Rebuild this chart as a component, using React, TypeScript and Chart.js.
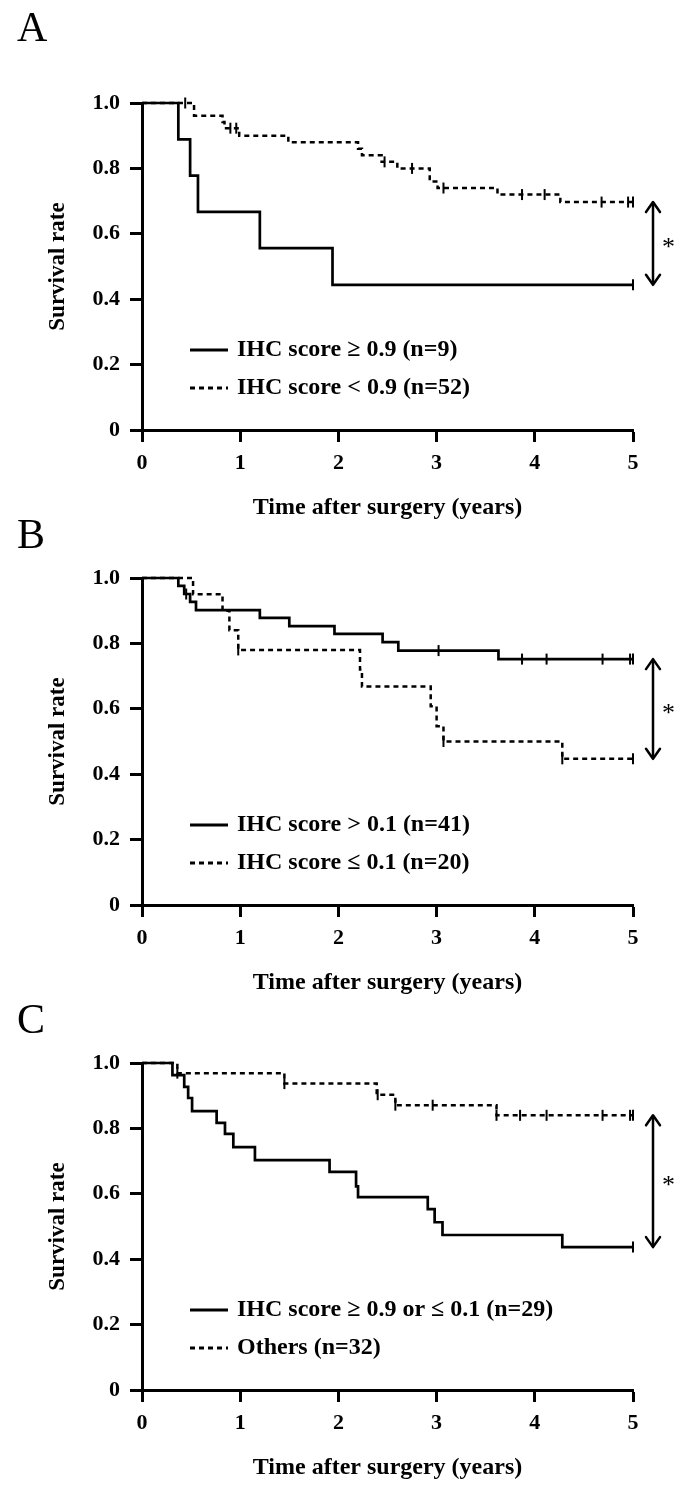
import React, { useEffect, useRef } from 'react';
import { Chart, registerables } from 'chart.js';
Chart.register(...registerables);

const FONT = '"Liberation Serif", "Times New Roman", serif';

const yTickLabels = ['0', '0.2', '0.4', '0.6', '0.8', '1.0'];
const xTickLabels = ['0', '1', '2', '3', '4', '5'];
const xAxisTitle = 'Time after surgery (years)';
const yAxisTitle = 'Survival rate';
const panelLetters = ['A', 'B', 'C'];

// Panel A
const aSolidLabel = 'IHC score \u2265 0.9 (n=9)';
const aSolidTimes = [0, 0.37, 0.49, 0.57, 1.2, 1.94, 5];
const aSolidSurv = [1, 0.889, 0.778, 0.667, 0.556, 0.444, 0.444];
const aSolidCensor = [5];
const aDashLabel = 'IHC score < 0.9 (n=52)';
const aDashTimes = [0, 0.53, 0.82, 0.84, 0.99, 1.49, 2.2, 2.24, 2.44, 2.6, 2.93, 3.01, 3.62, 4.26, 5];
const aDashSurv = [1, 0.961, 0.942, 0.923, 0.9, 0.88, 0.86, 0.84, 0.82, 0.8, 0.76, 0.74, 0.72, 0.697, 0.697];
const aDashCensor = [0.44, 0.9, 0.96, 2.47, 2.75, 3.07, 3.87, 4.1, 4.68, 4.95, 5];

// Panel B
const bSolidLabel = 'IHC score > 0.1 (n=41)';
const bSolidTimes = [0, 0.37, 0.43, 0.49, 0.55, 1.2, 1.5, 1.96, 2.45, 2.61, 3.63, 5];
const bSolidSurv = [1, 0.976, 0.951, 0.927, 0.902, 0.878, 0.853, 0.829, 0.804, 0.778, 0.752, 0.752];
const bSolidCensor = [0.45, 3.02, 3.87, 4.12, 4.69, 4.97, 5];
const bDashLabel = 'IHC score \u2264 0.1 (n=20)';
const bDashTimes = [0, 0.52, 0.82, 0.89, 0.98, 2.22, 2.24, 2.94, 3.0, 3.07, 4.28, 5];
const bDashSurv = [1, 0.95, 0.9, 0.84, 0.78, 0.72, 0.668, 0.608, 0.547, 0.5, 0.447, 0.447];
const bDashCensor = [0.98, 3.07, 4.28, 5];

// Panel C
const cSolidLabel = 'IHC score \u2265 0.9 or \u2264 0.1 (n=29)';
const cSolidTimes = [0, 0.31, 0.43, 0.47, 0.51, 0.76, 0.845, 0.93, 1.15, 1.91, 2.18, 2.2, 2.91, 2.98, 3.06, 4.28, 5];
const cSolidSurv = [1, 0.963, 0.927, 0.893, 0.853, 0.817, 0.783, 0.743, 0.703, 0.667, 0.623, 0.59, 0.553, 0.513, 0.474, 0.437, 0.437];
const cSolidCensor = [5];
const cDashLabel = 'Others (n=32)';
const cDashTimes = [0, 0.36, 1.45, 2.39, 2.58, 3.61, 5];
const cDashSurv = [1, 0.969, 0.937, 0.903, 0.871, 0.84, 0.84];
const cDashCensor = [0.36, 1.45, 2.4, 2.58, 2.96, 3.61, 3.85, 4.12, 4.69, 4.97, 5];

type Curve = { label: string; times: number[]; surv: number[]; censor: number[] };
type PanelDef = { letter: string; top: number; height: number; letterTop: number; solid: Curve; dash: Curve };

const panels: PanelDef[] = [
  {
    letter: panelLetters[0], top: 0, height: 540, letterTop: 3,
    solid: { label: aSolidLabel, times: aSolidTimes, surv: aSolidSurv, censor: aSolidCensor },
    dash: { label: aDashLabel, times: aDashTimes, surv: aDashSurv, censor: aDashCensor },
  },
  {
    letter: panelLetters[1], top: 475, height: 540, letterTop: 510,
    solid: { label: bSolidLabel, times: bSolidTimes, surv: bSolidSurv, censor: bSolidCensor },
    dash: { label: bDashLabel, times: bDashTimes, surv: bDashSurv, censor: bDashCensor },
  },
  {
    letter: panelLetters[2], top: 960, height: 536, letterTop: 995,
    solid: { label: cSolidLabel, times: cSolidTimes, surv: cSolidSurv, censor: cSolidCensor },
    dash: { label: cDashLabel, times: cDashTimes, surv: cDashSurv, censor: cDashCensor },
  },
];

const kmPoints = (times: number[], surv: number[]) => times.map((t, i) => ({ x: t, y: surv[i] }));
const censorPoints = (c: Curve) =>
  c.censor.map((t) => {
    let idx = 0;
    for (let i = 0; i < c.times.length; i++) if (c.times[i] <= t) idx = i;
    return { x: t, y: c.surv[idx] };
  });

const DASH = [5, 4];

function Panel({ def }: { def: PanelDef }) {
  const ref = useRef<HTMLCanvasElement | null>(null);
  useEffect(() => {
    if (!ref.current) return;
    const overlay = {
      id: 'overlay',
      afterDraw(chart: any) {
        const { ctx, chartArea, scales } = chart;
        const y = scales.y;
        ctx.save();
        const entries = [
          { label: def.solid.label, dash: [] as number[] },
          { label: def.dash.label, dash: DASH },
        ];
        entries.forEach((e, i) => {
          const ly = chartArea.top + 247 + i * 38;
          ctx.beginPath();
          ctx.setLineDash(e.dash);
          ctx.lineWidth = 3;
          ctx.strokeStyle = '#000';
          ctx.moveTo(chartArea.left + 48, ly);
          ctx.lineTo(chartArea.left + 86, ly);
          ctx.stroke();
          ctx.setLineDash([]);
          ctx.font = `bold 24px ${FONT}`;
          ctx.fillStyle = '#000';
          ctx.textAlign = 'left';
          ctx.textBaseline = 'middle';
          ctx.fillText(e.label, chartArea.left + 95, ly);
        });
        const endA = def.solid.surv[def.solid.surv.length - 1];
        const endB = def.dash.surv[def.dash.surv.length - 1];
        const yTop = y.getPixelForValue(Math.max(endA, endB));
        const yBot = y.getPixelForValue(Math.min(endA, endB));
        const ax = chartArea.right + 20;
        ctx.lineWidth = 2.5;
        ctx.lineCap = 'round';
        ctx.lineJoin = 'round';
        ctx.beginPath();
        ctx.moveTo(ax, yTop + 1);
        ctx.lineTo(ax, yBot - 1);
        ctx.stroke();
        ctx.beginPath();
        ctx.moveTo(ax - 7, yTop + 10);
        ctx.lineTo(ax, yTop);
        ctx.lineTo(ax + 7, yTop + 10);
        ctx.stroke();
        ctx.beginPath();
        ctx.moveTo(ax - 7, yBot - 10);
        ctx.lineTo(ax, yBot);
        ctx.lineTo(ax + 7, yBot - 10);
        ctx.stroke();
        ctx.font = `26px ${FONT}`;
        ctx.textAlign = 'left';
        ctx.textBaseline = 'middle';
        ctx.fillText('*', ax + 9, (yTop + yBot) / 2 + 5);
        ctx.restore();
      },
    };
    const chart = new Chart(ref.current, {
      type: 'line',
      data: {
        datasets: [
          {
            label: def.solid.label,
            data: kmPoints(def.solid.times, def.solid.surv),
            borderColor: '#000', borderWidth: 2.7, stepped: 'before', pointRadius: 0, fill: false, clip: false,
          } as any,
          {
            label: def.dash.label,
            data: kmPoints(def.dash.times, def.dash.surv),
            borderColor: '#000', borderWidth: 2.5, borderDash: DASH, stepped: 'before', pointRadius: 0, fill: false, clip: false,
          },
          {
            label: 'censor-solid',
            data: censorPoints(def.solid),
            showLine: false, pointStyle: 'line', pointRotation: 90, pointRadius: 5.5,
            pointBorderWidth: 2, borderColor: '#000', pointBorderColor: '#000', clip: false,
          },
          {
            label: 'censor-dash',
            data: censorPoints(def.dash),
            showLine: false, pointStyle: 'line', pointRotation: 90, pointRadius: 5.5,
            pointBorderWidth: 2, borderColor: '#000', pointBorderColor: '#000', clip: false,
          },
        ],
      },
      options: {
        responsive: false,
        animation: false,
        events: [],
        layout: { padding: { top: 103, right: 57, left: 0, bottom: 0 } },
        plugins: { legend: { display: false }, tooltip: { enabled: false } },
        scales: {
          x: {
            type: 'linear', min: 0, max: 5,
            afterFit: (s: any) => { s.height = def.height - 103 - 327; },
            ticks: {
              stepSize: 1, color: '#000', padding: 8,
              font: { family: FONT, size: 22, weight: 'bold' },
              callback: (_v: any, i: number) => xTickLabels[i],
            },
            grid: { display: true, drawOnChartArea: false, drawTicks: true, tickLength: 12, tickWidth: 3, tickColor: '#000' },
            border: { display: true, color: '#000', width: 3 },
            title: {
              display: true, text: xAxisTitle, color: '#000',
              font: { family: FONT, size: 24, weight: 'bold' },
              align: 'center',
              padding: { top: 0, bottom: def.height - 103 - 327 - 92 },
            },
          },
          y: {
            type: 'linear', min: 0, max: 1,
            afterFit: (s: any) => { s.width = 142; },
            ticks: {
              stepSize: 0.2, color: '#000', padding: 10,
              font: { family: FONT, size: 22, weight: 'bold' },
              callback: (_v: any, i: number) => yTickLabels[i],
            },
            grid: { display: true, drawOnChartArea: false, drawTicks: true, tickLength: 12, tickWidth: 3, tickColor: '#000' },
            border: { display: true, color: '#000', width: 3 },
            title: {
              display: true, text: yAxisTitle, color: '#000',
              font: { family: FONT, size: 23, weight: 'bold' },
              padding: { top: 44, bottom: 0 },
            },
          },
        },
      } as any,
      plugins: [overlay],
    });
    return () => chart.destroy();
  }, [def]);
  return (
    <>
      <canvas
        ref={ref}
        width={690}
        height={def.height}
        style={{ position: 'absolute', left: 0, top: def.top, width: 690, height: def.height }}
      />
      <div
        style={{
          position: 'absolute', left: 17, top: def.letterTop, fontFamily: FONT, fontSize: 42,
          lineHeight: '48px', color: '#000', zIndex: 2,
        }}
      >
        {def.letter}
      </div>
    </>
  );
}

export default function App() {
  return (
    <div style={{ position: 'absolute', left: 0, top: 0, width: 690, height: 1496, background: '#fff', overflow: 'hidden' }}>
      {panels.map((p) => (
        <Panel key={p.letter} def={p} />
      ))}
    </div>
  );
}
